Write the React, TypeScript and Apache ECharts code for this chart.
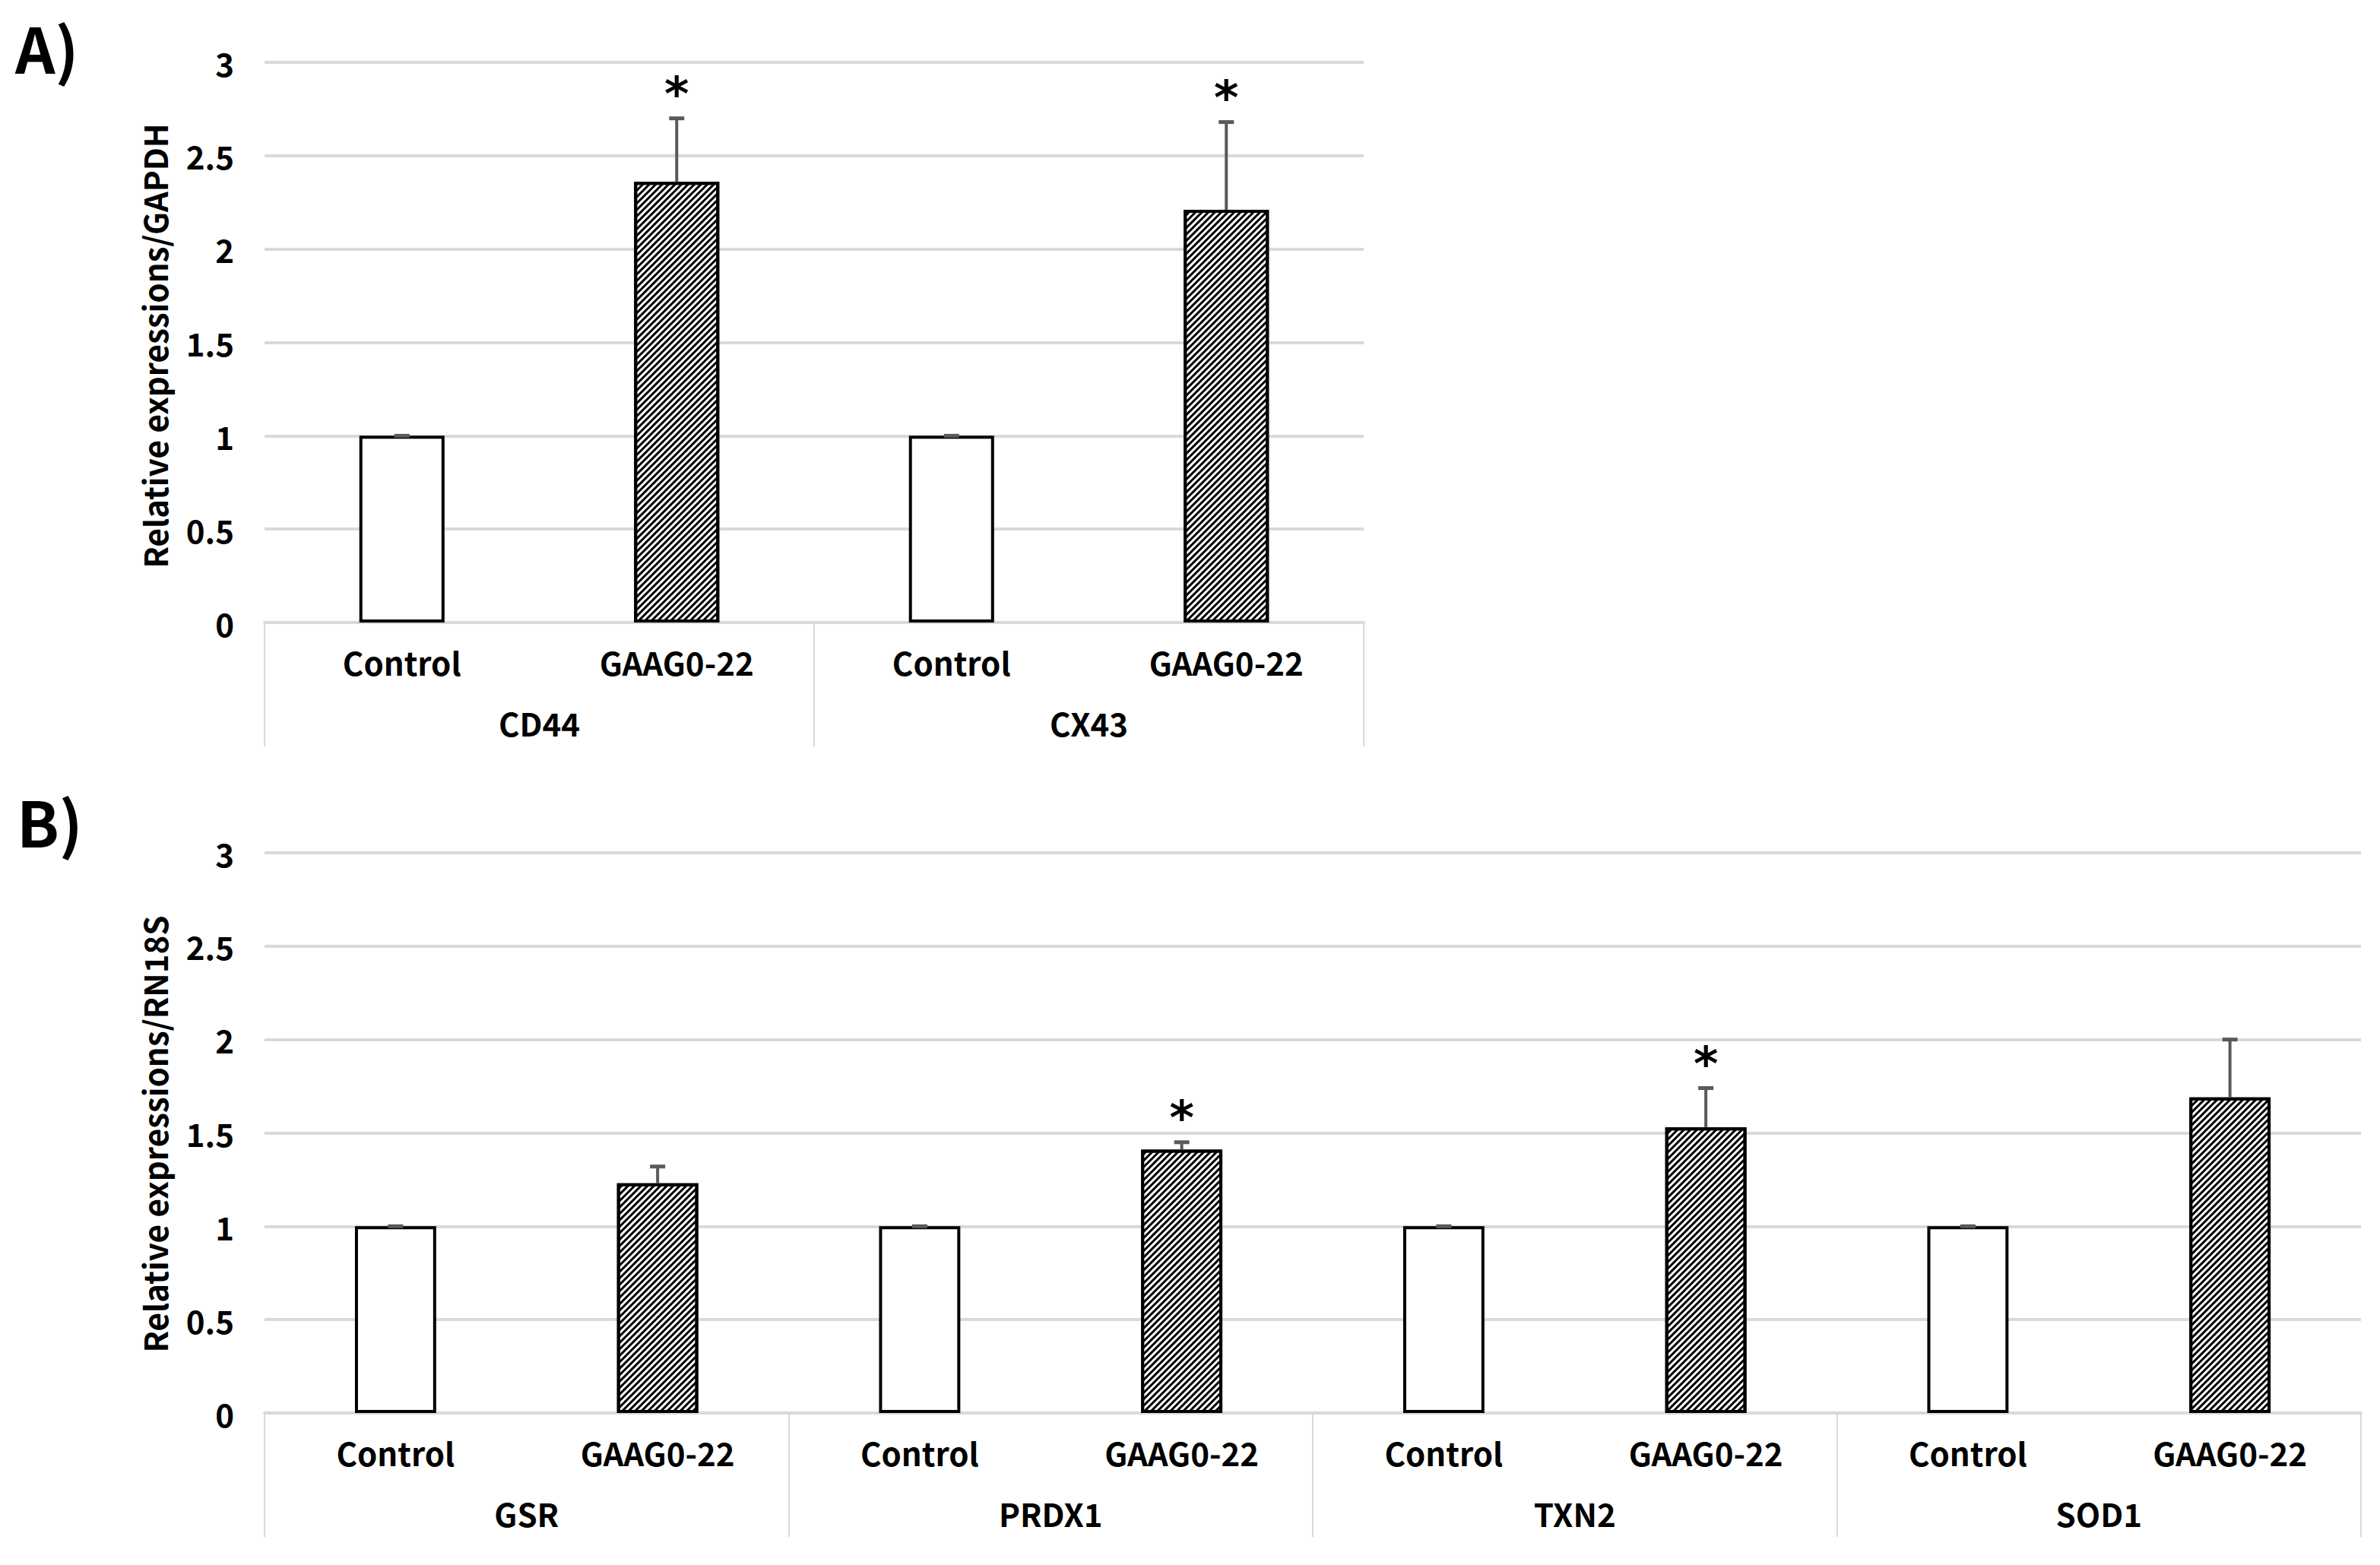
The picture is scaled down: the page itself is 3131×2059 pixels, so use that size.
import React, { useEffect, useRef } from "react";
import * as echarts from "echarts";

// ---------- data ----------
const conditions = ["Control", "GAAG0-22"];

const genesA = ["CD44", "CX43"];
const controlA = [1, 1];
const controlErrA = [0, 0];
const treatedA = [2.36, 2.21];
const treatedErrA = [0.34, 0.47];
const significantA = [true, true];

const genesB = ["GSR", "PRDX1", "TXN2", "SOD1"];
const controlB = [1, 1, 1, 1];
const controlErrB = [0, 0, 0, 0];
const treatedB = [1.23, 1.41, 1.53, 1.69];
const treatedErrB = [0.09, 0.04, 0.21, 0.31];
const significantB = [false, true, true, false];

const yMin = 0;
const yMax = 3;
const yStep = 0.5;

const yTitleA = "Relative expressions/GAPDH";
const yTitleB = "Relative expressions/RN18S";

// ---------- styles ----------
const FONT = "'Noto Sans CJK KR', 'Noto Sans', sans-serif";
const GRID_COLOR = "#d9d9d9";
const ERR_COLOR = "#595959";

function buildPanel(
  idx: number,
  genes: string[],
  control: number[],
  controlErr: number[],
  treated: number[],
  treatedErr: number[],
  sig: boolean[]
) {
  const cats = genes.flatMap(() => conditions);
  const ctrlData = cats.map((_, i) => (i % 2 === 0 ? control[i >> 1] : "-"));
  const trtData = cats.map((_, i) => (i % 2 === 1 ? treated[i >> 1] : "-"));
  const errData: number[][] = [];
  genes.forEach((_, g) => {
    errData.push([2 * g, control[g], control[g] + controlErr[g]]);
    errData.push([2 * g + 1, treated[g], treated[g] + treatedErr[g]]);
  });
  const starData: number[][] = [];
  genes.forEach((_, g) => {
    if (sig[g]) starData.push([2 * g + 1, treated[g] + treatedErr[g]]);
  });

  const xAxes = [
    {
      type: "category",
      gridIndex: idx,
      position: "bottom",
      data: cats,
      axisLine: { show: true, lineStyle: { color: GRID_COLOR, width: 4 } },
      axisTick: { show: false },
      axisLabel: {
        interval: 0,
        margin: 30,
        fontFamily: FONT,
        fontWeight: "bold",
        fontSize: 42,
        color: "#000",
      },
    },
    {
      type: "category",
      gridIndex: idx,
      position: "bottom",
      data: genes,
      axisLine: { show: false },
      axisTick: {
        show: true,
        interval: 0,
        length: 163,
        lineStyle: { color: GRID_COLOR, width: 2 },
      },
      axisLabel: {
        interval: 0,
        margin: 110,
        fontFamily: FONT,
        fontWeight: "bold",
        fontSize: 42,
        color: "#000",
      },
    },
  ];

  const yAxis = {
    type: "value",
    gridIndex: idx,
    min: yMin,
    max: yMax,
    interval: yStep,
    axisLine: { show: false },
    axisTick: { show: false },
    splitLine: { show: true, lineStyle: { color: GRID_COLOR, width: 4 } },
    axisLabel: {
      margin: 40,
      fontFamily: FONT,
      fontWeight: "bold",
      fontSize: 42,
      color: "#000",
    },
  };

  const xi = idx * 2;
  const series = [
    {
      type: "bar",
      xAxisIndex: xi,
      yAxisIndex: idx,
      data: ctrlData,
      barWidth: "31%",
      barGap: "-100%",
      itemStyle: { color: "#fff", borderColor: "#000", borderWidth: 4 },
      z: 2,
    },
    {
      type: "bar",
      xAxisIndex: xi,
      yAxisIndex: idx,
      data: trtData,
      barWidth: "31%",
      barGap: "-100%",
      itemStyle: {
        color: "#fff",
        borderColor: "#000",
        borderWidth: 4,
        decal: {
          symbol: "rect",
          symbolSize: 1,
          dashArrayX: [1, 0],
          dashArrayY: [3, 3],
          rotation: -Math.PI / 4,
          color: "#000",
        },
      },
      z: 2,
    },
    {
      type: "custom",
      xAxisIndex: xi,
      yAxisIndex: idx,
      data: errData,
      encode: { x: 0, y: [1, 2] },
      z: 3,
      renderItem: (params: any, api: any) => {
        const base = api.coord([api.value(0), api.value(1)]);
        const top = api.coord([api.value(0), api.value(2)]);
        return {
          type: "group",
          children: [
            {
              type: "line",
              shape: { x1: base[0], y1: base[1], x2: top[0], y2: top[1] },
              style: { stroke: ERR_COLOR, lineWidth: 4 },
            },
            {
              type: "line",
              shape: { x1: top[0] - 10, y1: top[1], x2: top[0] + 10, y2: top[1] },
              style: { stroke: ERR_COLOR, lineWidth: 5 },
            },
          ],
        };
      },
    },
    {
      type: "custom",
      xAxisIndex: xi,
      yAxisIndex: idx,
      data: starData,
      encode: { x: 0, y: 1 },
      z: 4,
      renderItem: (params: any, api: any) => {
        const p = api.coord([api.value(0), api.value(1)]);
        return {
          type: "text",
          x: p[0],
          y: p[1] - 32,
          style: {
            text: "*",
            fontFamily: "'DejaVu Sans', sans-serif",
            fontSize: 62,
            fontWeight: "bold",
            fill: "#000",
            align: "center",
            verticalAlign: "middle",
          },
        };
      },
    },
  ];

  return { xAxes, yAxis, series };
}

export default function App() {
  const ref = useRef<HTMLDivElement>(null);

  useEffect(() => {
    document.body.style.margin = "0";
    if (!ref.current) return;
    const chart = echarts.init(ref.current, undefined, { renderer: "svg" });

    const pA = buildPanel(0, genesA, controlA, controlErrA, treatedA, treatedErrA, significantA);
    const pB = buildPanel(1, genesB, controlB, controlErrB, treatedB, treatedErrB, significantB);

    const titleStyle = {
      fontFamily: FONT,
      fontWeight: "bold",
      fontSize: 42,
      fill: "#000",
      align: "center",
      verticalAlign: "middle",
    };

    chart.setOption({
      animation: false,
      backgroundColor: "#fff",
      grid: [
        { left: 348, top: 82, width: 1446, height: 737 },
        { left: 348, top: 1122, width: 2758, height: 737 },
      ],
      xAxis: [...pA.xAxes, ...pB.xAxes],
      yAxis: [pA.yAxis, pB.yAxis],
      series: [...pA.series, ...pB.series],
      graphic: [
        {
          type: "text",
          left: 20,
          top: 20,
          style: { text: "A)", fontFamily: FONT, fontWeight: "bold", fontSize: 82, fill: "#000" },
        },
        {
          type: "text",
          left: 22,
          top: 1038,
          style: { text: "B)", fontFamily: FONT, fontWeight: "bold", fontSize: 82, fill: "#000" },
        },
        {
          type: "text",
          x: 202,
          y: 455,
          rotation: Math.PI / 2,
          style: { ...titleStyle, text: yTitleA },
        },
        {
          type: "text",
          x: 202,
          y: 1492,
          rotation: Math.PI / 2,
          style: { ...titleStyle, text: yTitleB },
        },
      ],
    });

    return () => chart.dispose();
  }, []);

  return <div ref={ref} style={{ width: 3131, height: 2059 }} />;
}
